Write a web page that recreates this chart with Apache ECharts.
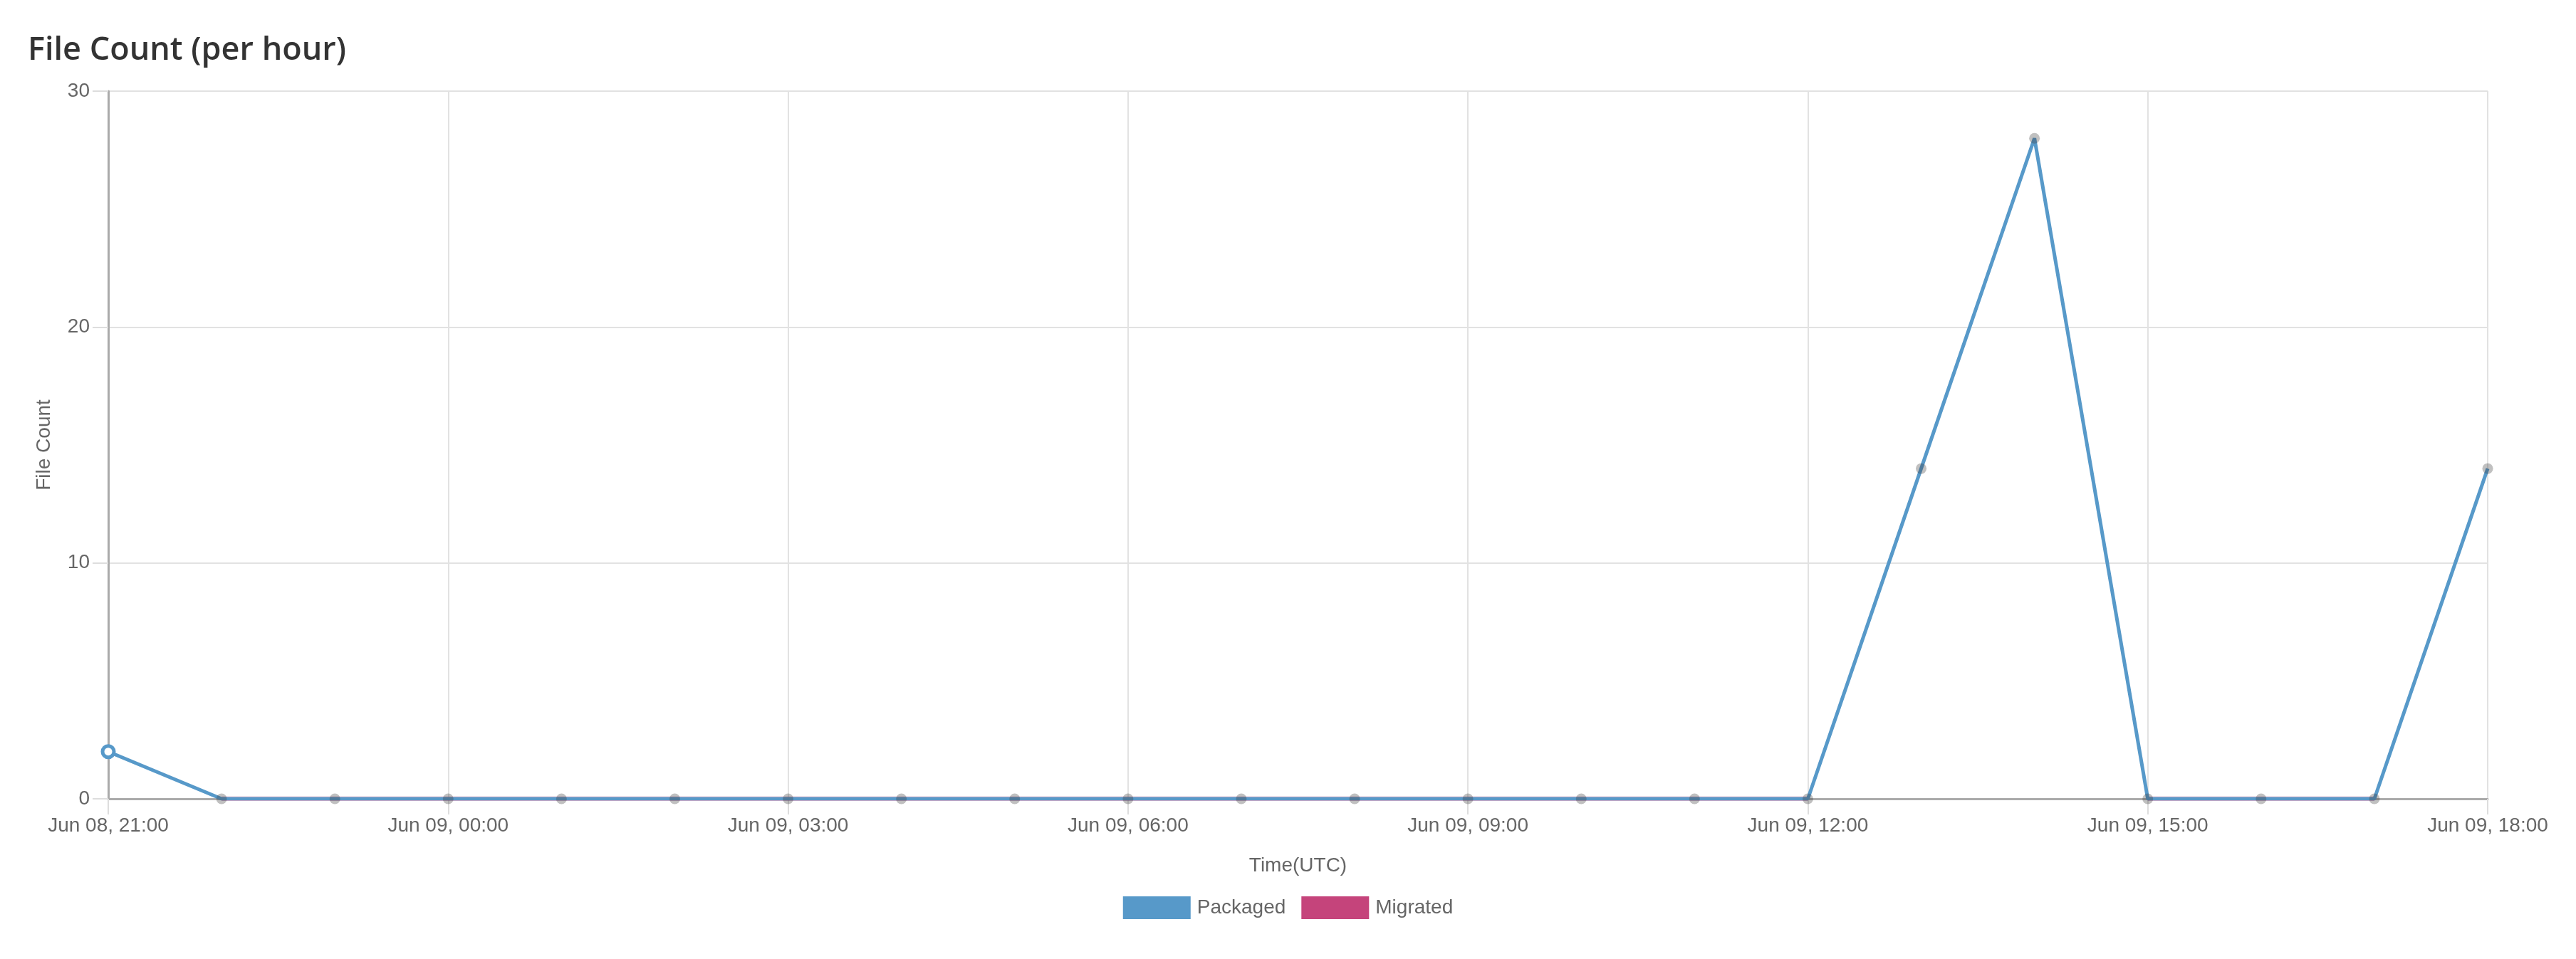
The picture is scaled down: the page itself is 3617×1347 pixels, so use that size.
<!DOCTYPE html>
<html>
<head>
<meta charset="utf-8">
<script src="https://cdn.jsdelivr.net/npm/echarts@6/dist/echarts.min.js"></script>
<style>
html,body{margin:0;padding:0;background:#fff;}
#chart{width:3617px;height:1347px;}
</style>
</head>
<body>
<div id="chart"></div>
<script>
const hours = ['2021-06-08T21:00:00Z','2021-06-08T22:00:00Z','2021-06-08T23:00:00Z','2021-06-09T00:00:00Z','2021-06-09T01:00:00Z','2021-06-09T02:00:00Z','2021-06-09T03:00:00Z','2021-06-09T04:00:00Z','2021-06-09T05:00:00Z','2021-06-09T06:00:00Z','2021-06-09T07:00:00Z','2021-06-09T08:00:00Z','2021-06-09T09:00:00Z','2021-06-09T10:00:00Z','2021-06-09T11:00:00Z','2021-06-09T12:00:00Z','2021-06-09T13:00:00Z','2021-06-09T14:00:00Z','2021-06-09T15:00:00Z','2021-06-09T16:00:00Z','2021-06-09T17:00:00Z','2021-06-09T18:00:00Z'];
const packaged = [2,0,0,0,0,0,0,0,0,0,0,0,0,0,0,0,14,28,0,0,0,14];
const migrated = [null,0,0,0,0,0,0,0,0,0,0,0,0,0,0,0,null,null,0,0,0,null];
const yTicks = [0,10,20,30];
const monthNames = ['Jan','Feb','Mar','Apr','May','Jun','Jul','Aug','Sep','Oct','Nov','Dec'];

const times = hours.map(h => Date.parse(h));
const H3 = 3*3600*1000;
function fmt(v){
  const d = new Date(v);
  const p = n => String(n).padStart(2,'0');
  return monthNames[d.getUTCMonth()] + ' ' + p(d.getUTCDate()) + ', ' + p(d.getUTCHours()) + ':' + p(d.getUTCMinutes());
}
const FONT = 'Liberation Sans, Arial, sans-serif';
const chart = echarts.init(document.getElementById('chart'));
chart.setOption({
  animation:false,
  title:{text:'File Count (per hour)', left:34, top:44,
    textStyle:{fontFamily:'Open Sans', fontWeight:600, fontSize:45, color:'#333'}},
  legend:{
    bottom:51, left:'center',
    itemWidth:95, itemHeight:32, itemGap:22,
    textStyle:{fontFamily:FONT, fontSize:28, color:'#666', padding:[0,0,0,4]},
    icon:'rect',
    data:[{name:'Packaged', itemStyle:{color:'#5799c9', borderWidth:0}}, {name:'Migrated', itemStyle:{color:'#c5447b', borderWidth:0}}]
  },
  grid:{left:152, right:124, top:128, bottom:225},
  xAxis:{
    type:'value',
    min:times[0], max:times[times.length-1], interval:H3,
    name:'Time(UTC)', nameLocation:'middle', nameGap:80,
    nameTextStyle:{fontFamily:FONT, fontSize:28, color:'#666'},
    axisLine:{lineStyle:{color:'#aaa', width:3}},
    axisTick:{length:22, lineStyle:{color:'#ddd', width:2}},
    axisLabel:{formatter:fmt, fontFamily:FONT, fontSize:28, color:'#666', margin:24},
    splitLine:{show:true, lineStyle:{color:'#e2e2e2', width:2}}
  },
  yAxis:{
    type:'value', min:yTicks[0], max:yTicks[yTicks.length-1], interval:10,
    name:'File Count', nameLocation:'middle', nameGap:76, nameRotate:90,
    nameTextStyle:{fontFamily:FONT, fontSize:28, color:'#666'},
    axisLine:{show:true, lineStyle:{color:'#aaa', width:3}},
    axisTick:{show:true, length:22, lineStyle:{color:'#ddd', width:2}},
    axisLabel:{fontFamily:FONT, fontSize:28, color:'#666', margin:26},
    splitLine:{show:true, lineStyle:{color:'#e2e2e2', width:2}}
  },
  series:[
    {
      name:'Migrated', type:'line', z:2,
      data: times.map((t,i) => [t, migrated[i]]),
      connectNulls:false,
      showSymbol:false, symbol:'none',
      itemStyle:{color:'#c5447b'},
      lineStyle:{color:'#c5447b', width:6.5, opacity:0.45}
    },
    {
      name:'Packaged', type:'line', z:3,
      data: times.map((t,i) => {
        if (i === 0) return {value:[t, packaged[i]], symbol:'circle', symbolSize:16,
          itemStyle:{color:'#ffffff', borderColor:'#5799c9', borderWidth:5, opacity:1}};
        return [t, packaged[i]];
      }),
      symbol:'circle', symbolSize:15, showAllSymbol:true,
      itemStyle:{color:'rgba(60,60,60,0.32)', borderWidth:0},
      lineStyle:{color:'#5799c9', width:5},
      emphasis:{disabled:true}
    }
  ]
});
</script>
</body>
</html>
